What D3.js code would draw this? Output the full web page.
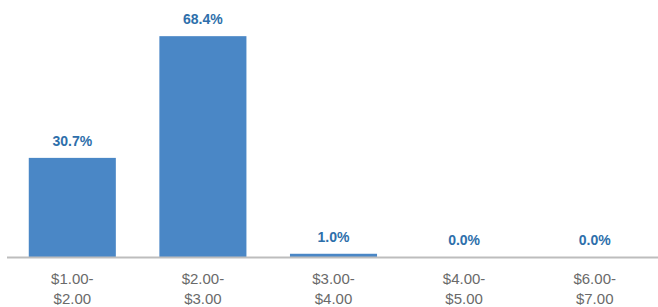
<!DOCTYPE html>
<html>
<head lang="en">
  <meta charset="UTF-8">
  <title>Price range distribution</title>
  <script src="https://cdn.jsdelivr.net/npm/d3@7"></script>
</head>
<style>
  body { margin: 0; background: #fff; }
  #chart text { font-family: "Liberation Sans", Arial, sans-serif; }
  #chart .bar { fill: #4a87c6; }
  #chart .value { fill: #2e6fab; font-size: 14px; font-weight: bold; }
  #chart .tick-label { fill: #6a6a6a; font-size: 15px; }
</style>
<body>

<svg id="chart"></svg>

<script>
  // Data
  var rangeLow  = ['$1.00-', '$2.00-', '$3.00-', '$4.00-', '$6.00-'];
  var rangeHigh = ['$2.00', '$3.00', '$4.00', '$5.00', '$7.00'];
  var shares    = [30.7, 68.4, 1.0, 0.0, 0.0];

  var width    = 658;
  var height   = 307;
  var baseline = 257;

  var chart = d3.select('#chart')
    .attr('width', width)
    .attr('height', height);

  var x = d3.scaleBand()
    .domain(d3.range(shares.length))
    .range([7, 660])
    .paddingInner(1 / 3)
    .paddingOuter(1 / 6);

  var y = d3.scaleLinear()
    .domain([0, 70])
    .range([baseline, 31]);

  // bars
  chart.selectAll('rect.bar')
    .data(shares)
    .enter()
      .append('rect')
      .attr('class', 'bar')
      .attr('x', function (d, i) { return x(i); })
      .attr('y', function (d) { return y(d); })
      .attr('width', x.bandwidth())
      .attr('height', function (d) { return baseline - y(d); });

  // axis line
  chart.append('line')
    .attr('x1', 7).attr('x2', width)
    .attr('y1', baseline + 0.5).attr('y2', baseline + 0.5)
    .attr('stroke', '#bdbdbd')
    .attr('stroke-width', 2);

  // value labels
  chart.selectAll('text.value')
    .data(shares)
    .enter()
      .append('text')
      .attr('class', 'value')
      .attr('text-anchor', 'middle')
      .attr('x', function (d, i) { return x(i) + x.bandwidth() / 2; })
      .attr('y', function (d) { return y(d) - 12; })
      .text(function (d) { return d.toFixed(1) + '%'; });

  // category labels, two lines each
  var labels = chart.selectAll('text.tick-label')
    .data(rangeLow)
    .enter()
      .append('text')
      .attr('class', 'tick-label')
      .attr('text-anchor', 'middle')
      .attr('transform', function (d, i) {
        return 'translate(' + (x(i) + x.bandwidth() / 2) + ',' + (baseline + 27) + ')';
      });

  labels.append('tspan')
    .attr('x', 0)
    .text(function (d) { return d; });

  labels.append('tspan')
    .attr('x', 0)
    .attr('dy', 20)
    .text(function (d, i) { return rangeHigh[i]; });
</script>
</body>
</html>
